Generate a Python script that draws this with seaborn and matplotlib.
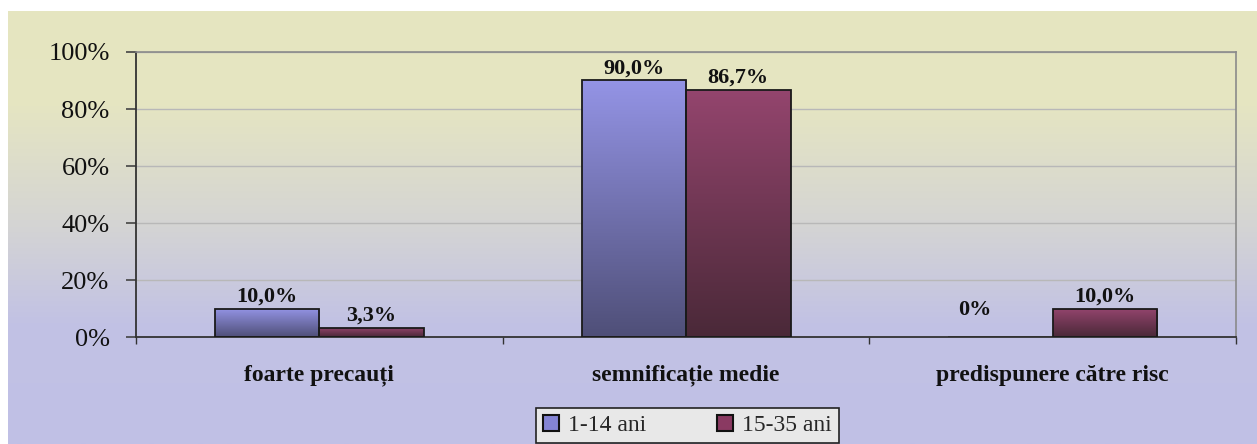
import numpy as np
import pandas as pd
import matplotlib
matplotlib.use("Agg")
import matplotlib.pyplot as plt
import matplotlib.colors as mcolors
from matplotlib.patches import Patch
import seaborn as sns

categories = ["foarte precauți", "semnificație medie", "predispunere către risc"]
series = ["1-14 ani", "15-35 ani"]
values_1_14 = [10.0, 90.0, 0.0]
values_15_35 = [3.3, 86.7, 10.0]
labels_1_14 = ["10,0%", "90,0%", "0%"]
labels_15_35 = ["3,3%", "86,7%", "10,0%"]
yticks = [0, 20, 40, 60, 80, 100]
ytick_labels = ["0%", "20%", "40%", "60%", "80%", "100%"]

df = pd.DataFrame({
    "categorie": categories * 2,
    "grupa": [series[0]] * 3 + [series[1]] * 3,
    "valoare": values_1_14 + values_15_35,
})

sns.set_theme(style="white")
plt.rcParams["font.family"] = ["Liberation Serif", "DejaVu Serif"]

W, H = 1257, 444
fig = plt.figure(figsize=(W / 100, H / 100), dpi=100)
fig.patch.set_facecolor("white")

# background gradient panel
bg = fig.add_axes([8 / W, 0, 1 - 8 / W, 1 - 11 / H], zorder=0)
stops = [(0.0, (230, 230, 192)), (0.22, (229, 229, 194)), (0.5, (212, 212, 212)),
         (0.72, (194, 194, 228)), (1.0, (192, 192, 230))]
cmap_bg = mcolors.LinearSegmentedColormap.from_list(
    "bg", [(p, tuple(c / 255 for c in rgb)) for p, rgb in stops])
grad = np.linspace(0, 1, 256).reshape(-1, 1)
bg.imshow(grad, cmap=cmap_bg, aspect="auto", extent=[0, 1, 0, 1], origin="upper")
bg.set_axis_off()

ax = fig.add_axes([136 / W, 1 - 337 / H, 1100 / W, 285 / H], zorder=1)
ax.patch.set_alpha(0)

palette = {series[0]: "#8484D4", series[1]: "#8A3A62"}
sns.barplot(data=df, x="categorie", y="valoare", hue="grupa", palette=palette,
            width=0.57, gap=0, ax=ax, legend=False, edgecolor="#1a1a1a", linewidth=1.3,
            saturation=1)

grad_cols = {
    0: [(0.58, 0.58, 0.90), (0.31, 0.31, 0.47)],
    1: [(0.58, 0.27, 0.43), (0.29, 0.16, 0.22)],
}
label_sets = [labels_1_14, labels_15_35]
for ci, cont in enumerate(ax.containers):
    cm = mcolors.LinearSegmentedColormap.from_list("b%d" % ci, grad_cols[ci])
    for bi, bar in enumerate(cont):
        x0, y0 = bar.get_x(), bar.get_y()
        w, h = bar.get_width(), bar.get_height()
        if h > 0:
            im = ax.imshow(grad, cmap=cm, aspect="auto",
                           extent=[x0, x0 + w, y0, y0 + h], origin="upper", zorder=2)
            im.set_clip_path(bar)
            bar.set_facecolor("none")
            bar.set_zorder(3)
        lab = label_sets[ci][bi]
        off = 1.5 if h > 0 else 12
        xo = 0 if h > 0 else -0.07
        ax.annotate(lab, (x0 + w / 2 + xo, y0 + h), xytext=(0, off), textcoords="offset points",
                    ha="center", va="bottom", fontsize=16, fontweight="bold", color="#111111")
ax.set_xlim(-0.5, 2.5)
ax.set_ylim(0, 100)

ax.set_yticks(yticks)
ax.set_yticklabels(ytick_labels, fontsize=19, color="#111111")
ax.yaxis.grid(True, color="#b8b8b8", linewidth=1)
ax.set_axisbelow(True)
ax.tick_params(axis="y", length=7, width=1.2, color="#444444", direction="out", pad=12, left=True)

ax.set_xticks(range(3))
ax.set_xticklabels(categories, fontsize=17, fontweight="bold", color="#111111")
ax.set_xticks([-0.5, 0.5, 1.5, 2.5], minor=True)
ax.tick_params(axis="x", which="major", length=0, pad=20)
ax.tick_params(axis="x", which="minor", length=5, width=1, color="#333333", direction="out", bottom=True)
ax.set_xlabel("")
ax.set_ylabel("")

for s in ["top", "right"]:
    ax.spines[s].set_visible(True)
    ax.spines[s].set_color("#8a8a8a")
    ax.spines[s].set_linewidth(1.2)
for s in ["left", "bottom"]:
    ax.spines[s].set_color("#333333")
    ax.spines[s].set_linewidth(1.3)

handles = [Patch(facecolor="#8484D4", edgecolor="#111111", linewidth=1.5, label=series[0]),
           Patch(facecolor="#8A3A62", edgecolor="#111111", linewidth=1.5, label=series[1])]
leg = fig.legend(handles=handles, loc="upper center", bbox_to_anchor=(687.5 / W, 1 - 408 / H),
                 ncol=2, frameon=True, fancybox=False, edgecolor="#222222", facecolor="#e8e8e8",
                 framealpha=1, fontsize=17, handlelength=0.65, handleheight=0.65, handletextpad=0.4,
                 columnspacing=3.0, borderpad=0.3, borderaxespad=0)
leg.get_frame().set_linewidth(1.2)

fig.savefig("out.png", dpi=100)
